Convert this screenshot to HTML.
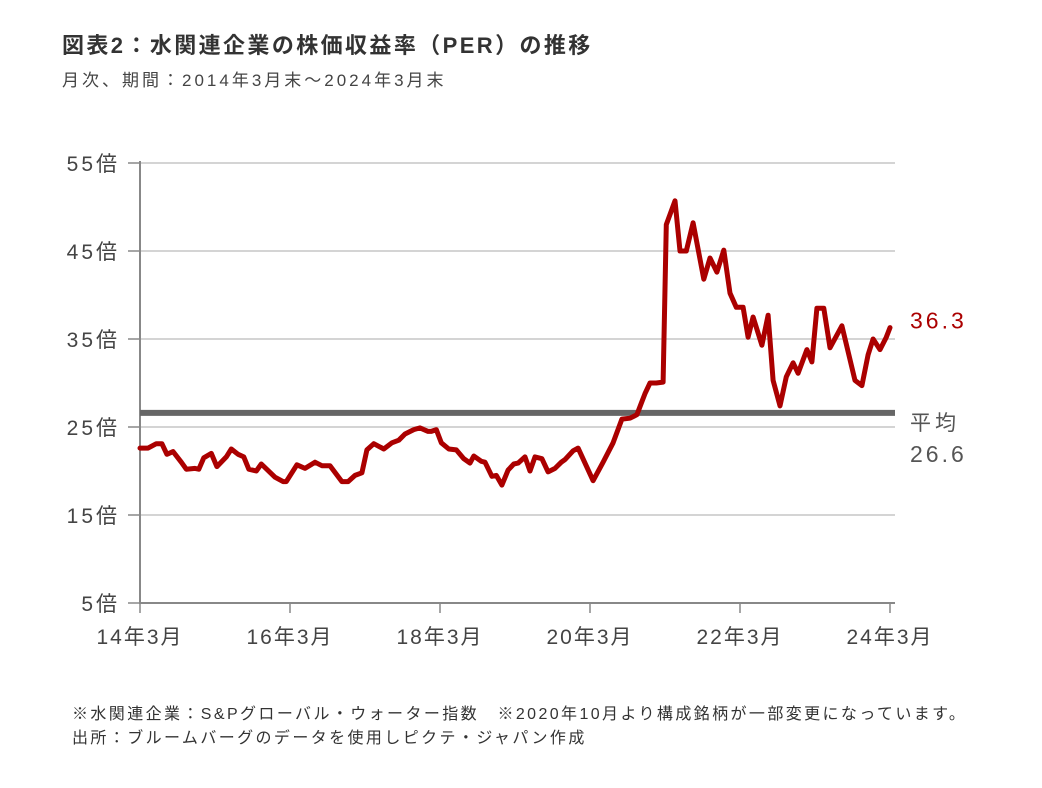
<!DOCTYPE html>
<html><head><meta charset="utf-8"><style>
body{margin:0;background:#fff;font-family:"Liberation Sans","Noto Sans CJK JP",sans-serif;}
#wrap{position:relative;width:1042px;height:788px;overflow:hidden;}
.t{position:absolute;white-space:nowrap;}
</style></head><body>
<div id="wrap">
<div class="t" style="left:62px;top:28px;font-size:22px;font-weight:bold;color:#333;letter-spacing:2.4px;">図表2：水関連企業の株価収益率（PER）の推移</div>
<div class="t" style="left:62px;top:66px;font-size:17px;color:#444;letter-spacing:3px;">月次、期間：2014年3月末～2024年3月末</div>
<svg id="chart" width="1042" height="788" style="position:absolute;left:0;top:0;"></svg>
<div class="t" style="left:72px;top:700px;font-size:16px;color:#333;letter-spacing:2.4px;">※水関連企業：S&amp;Pグローバル・ウォーター指数　※2020年10月より構成銘柄が一部変更になっています。</div>
<div class="t" style="left:72px;top:724px;font-size:16px;color:#333;letter-spacing:2.4px;">出所：ブルームバーグのデータを使用しピクテ・ジャパン作成</div>
</div>
<script>
const months=[0,1.3,2.6,3.5,4.3,5.3,6.6,7.4,8.8,9.4,10.2,11.4,12.3,13.8,14.6,15.7,16.6,17.4,18.6,19.4,21.6,22.9,23.4,25.1,26.4,28,29.1,30.4,32.3,33.3,34.4,35.5,36.3,37.4,39,40.3,41.4,42.4,43.8,44.8,46.1,46.6,47.4,48.2,49.4,50.6,51.8,52.8,53.4,54.6,55.2,56.3,57,57.9,58.9,59.8,60.5,61.6,62.4,63.2,64.3,65.3,66.4,67.4,68,69.3,70.1,72.5,74.1,75.7,77.1,78.4,79.5,80.2,80.8,81.6,82.6,83.7,84.2,85.6,86.4,87.4,88.5,90.2,91.2,92.3,93.4,94.4,95.4,96.5,97.3,98.1,99.5,100.5,101.3,102.4,103.4,104.5,105.3,106.7,107.5,108.3,109.4,110.4,112.3,114.4,115.5,116.5,117.3,118.4,119.4,120];
const perValues=[22.6,22.6,23.1,23.1,21.9,22.2,21.0,20.2,20.3,20.2,21.5,22.0,20.5,21.6,22.5,21.9,21.6,20.2,20.0,20.8,19.3,18.8,18.8,20.7,20.3,21.0,20.6,20.6,18.8,18.8,19.5,19.8,22.4,23.1,22.5,23.2,23.5,24.2,24.7,24.9,24.5,24.5,24.7,23.2,22.5,22.4,21.4,20.9,21.7,21.1,21.0,19.4,19.5,18.4,20.1,20.8,20.9,21.6,20.0,21.6,21.4,19.9,20.3,21.0,21.3,22.3,22.6,18.9,21.0,23.2,25.9,26.0,26.4,27.7,28.8,30.0,30.0,30.1,48.0,50.7,45.0,45.0,48.2,41.8,44.2,42.6,45.1,40.2,38.6,38.6,35.2,37.5,34.3,37.7,30.3,27.4,30.7,32.3,31.1,33.8,32.4,38.5,38.5,34.0,36.5,30.3,29.7,33.2,35.0,33.8,35.2,36.3];
const averageValue=26.6;
const yTicks=[5,15,25,35,45,55];
const yTickLabels=["5倍","15倍","25倍","35倍","45倍","55倍"];
const xTicks=[0,24,48,72,96,120];
const xTickLabels=["14年3月","16年3月","18年3月","20年3月","22年3月","24年3月"];
const NS="http://www.w3.org/2000/svg";
const svg=document.getElementById('chart');
const x=m=>140+m*6.25;
const y=v=>603-(v-5)*8.8;
function mk(tag,attrs){const e=document.createElementNS(NS,tag);for(const k in attrs)e.setAttribute(k,attrs[k]);svg.appendChild(e);return e;}
yTicks.forEach((t,i)=>{
  if(t>5){const g=mk('line',{x1:140,x2:895,y1:y(t),y2:y(t),stroke:'#d4d4d4','stroke-width':2});
  
  }
  const tk=mk('line',{x1:128,x2:140,y1:y(t),y2:y(t),stroke:'#888','stroke-width':1.5});
  
  
  const lb=mk('text',{x:120,y:y(t)+8,'text-anchor':'end','font-size':21,fill:'#444','letter-spacing':3});
  lb.textContent=yTickLabels[i];
  
  
});
const ya=mk('line',{x1:140,x2:140,y1:y(55)-2,y2:y(5),stroke:'#888','stroke-width':2});


const xa=mk('line',{x1:139,x2:895,y1:y(5),y2:y(5),stroke:'#888','stroke-width':2});


xTicks.forEach((t,i)=>{
  const tk=mk('line',{x1:x(t),x2:x(t),y1:y(5),y2:y(5)+10,stroke:'#888','stroke-width':1.5});
  
  
  const lb=mk('text',{x:x(t),y:y(5)+41,'text-anchor':'middle','font-size':21,fill:'#444','letter-spacing':2});
  lb.textContent=xTickLabels[i];
  
  
});
const av=mk('line',{x1:140,x2:895,y1:y(averageValue),y2:y(averageValue),stroke:'#666','stroke-width':6});


const pts=months.map((m,i)=>x(m).toFixed(1)+','+y(perValues[i]).toFixed(1)).join(' ');
const pl=mk('polyline',{points:pts,fill:'none',stroke:'#ab0000','stroke-width':5,'stroke-linejoin':'round','stroke-linecap':'round'});


const last=perValues[perValues.length-1];
const l1=mk('text',{x:910,y:y(last)+1,'font-size':23,fill:'#ab0000','letter-spacing':3});
l1.textContent=last.toFixed(1);


const l2=mk('text',{x:910,y:y(averageValue)+17,'font-size':21,fill:'#555','letter-spacing':4});
l2.textContent='平均';


const l3=mk('text',{x:910,y:y(averageValue)+49,'font-size':23,fill:'#555','letter-spacing':3});
l3.textContent=averageValue.toFixed(1);


</script>
</body></html>
